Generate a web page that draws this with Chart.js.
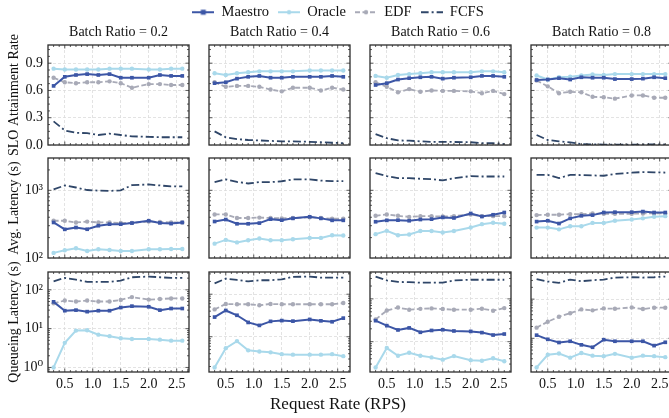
<!DOCTYPE html>
<html>
<head>
<meta charset="utf-8">
<script src="https://cdn.jsdelivr.net/npm/chart.js@4.4.0/dist/chart.umd.min.js"></script>
<style>
  html, body { margin: 0; padding: 0; background: #fff; overflow: hidden; }
  #fig { position: relative; width: 669px; height: 418px; overflow: hidden; }
  #fig canvas { position: absolute; }
</style>
</head>
<body>
<div id="fig"></div>
<script>
// ---- data ----
const xRates = [0.3, 0.5, 0.7, 0.9, 1.1, 1.3, 1.5, 1.7, 2.0, 2.2, 2.4, 2.6];
const batchRatios = ['0.2', '0.4', '0.6', '0.8'];
const seriesNames = ['Maestro', 'Oracle', 'EDF', 'FCFS'];
const metricNames = ['SLO Attainment Rate', 'Avg. Latency (s)', 'Queueing Latency (s)'];
const xTickValues = [0.5, 1.0, 1.5, 2.0, 2.5];
const sloTickValues = [0.0, 0.3, 0.6, 0.9];

// SLO attainment rate, one row per batch ratio
const sloMaestro = [
  [0.65, 0.75, 0.77, 0.78, 0.77, 0.78, 0.74, 0.74, 0.74, 0.77, 0.76, 0.76],
  [0.68, 0.69, 0.73, 0.75, 0.76, 0.74, 0.74, 0.75, 0.75, 0.75, 0.76, 0.75],
  [0.66, 0.68, 0.72, 0.735, 0.745, 0.75, 0.73, 0.74, 0.745, 0.76, 0.76, 0.75],
  [0.715, 0.72, 0.735, 0.72, 0.745, 0.74, 0.74, 0.725, 0.725, 0.73, 0.745, 0.735]
];
const sloOracle = [
  [0.84, 0.83, 0.83, 0.83, 0.83, 0.84, 0.84, 0.84, 0.83, 0.83, 0.84, 0.84],
  [0.79, 0.77, 0.79, 0.80, 0.81, 0.81, 0.81, 0.81, 0.82, 0.82, 0.82, 0.82],
  [0.76, 0.74, 0.77, 0.78, 0.79, 0.80, 0.80, 0.80, 0.80, 0.81, 0.81, 0.80],
  [0.765, 0.72, 0.745, 0.75, 0.765, 0.775, 0.77, 0.78, 0.78, 0.78, 0.78, 0.78]
];
const sloEdf = [
  [0.74, 0.69, 0.68, 0.69, 0.69, 0.70, 0.68, 0.63, 0.67, 0.67, 0.66, 0.66],
  [0.69, 0.64, 0.65, 0.65, 0.64, 0.61, 0.59, 0.63, 0.63, 0.60, 0.63, 0.61],
  [0.69, 0.64, 0.58, 0.615, 0.585, 0.60, 0.595, 0.595, 0.59, 0.57, 0.595, 0.56],
  [0.71, 0.645, 0.57, 0.585, 0.58, 0.53, 0.525, 0.51, 0.545, 0.545, 0.52, 0.52]
];
const sloFcfs = [
  [0.26, 0.16, 0.135, 0.13, 0.11, 0.125, 0.11, 0.095, 0.09, 0.085, 0.085, 0.085],
  [0.15, 0.085, 0.065, 0.055, 0.05, 0.045, 0.04, 0.04, 0.035, 0.03, 0.025, 0.02],
  [0.12, 0.075, 0.05, 0.048, 0.04, 0.035, 0.035, 0.033, 0.03, 0.022, 0.02, 0.01],
  [0.11, 0.055, 0.04, 0.03, 0.01, 0.007, 0.005, 0.005, 0.005, 0.005, 0.007, 0.005]
];

// average latency (s)
const avgMaestro = [
  [335, 265, 282, 266, 300, 316, 316, 328, 355, 330, 322, 335],
  [346, 370, 320, 320, 328, 375, 362, 385, 406, 385, 360, 360],
  [343, 360, 362, 355, 370, 375, 398, 390, 455, 410, 435, 470],
  [345, 355, 323, 385, 420, 430, 470, 475, 475, 485, 470, 470]
];
const avgOracle = [
  [119, 130, 139, 127, 135, 131, 127, 127, 135, 135, 136, 136],
  [163, 185, 170, 183, 194, 183, 183, 189, 198, 198, 217, 215],
  [225, 252, 217, 222, 250, 250, 238, 250, 282, 316, 331, 320],
  [281, 281, 265, 295, 295, 330, 330, 355, 370, 385, 406, 415]
];
const avgEdf = [
  [355, 355, 335, 345, 335, 335, 330, 330, 345, 340, 335, 335],
  [440, 440, 390, 390, 395, 390, 385, 390, 400, 390, 380, 380],
  [420, 440, 420, 405, 415, 415, 410, 415, 440, 415, 415, 415],
  [430, 435, 435, 445, 445, 455, 450, 450, 450, 455, 455, 455]
];
const avgFcfs = [
  [1030, 1180, 1100, 1010, 990, 980, 1000, 1190, 1220, 1180, 1140, 1140],
  [1320, 1450, 1330, 1260, 1320, 1320, 1360, 1450, 1450, 1390, 1370, 1370],
  [1790, 1620, 1510, 1510, 1480, 1460, 1400, 1510, 1620, 1600, 1600, 1600],
  [1690, 1690, 1510, 1690, 1680, 1660, 1640, 1740, 1820, 1860, 1840, 1830]
];

// queueing latency (s)
const queueMaestro = [
  [49, 29, 30, 27.4, 29, 29, 35, 38, 36.6, 30, 33, 33],
  [29, 41.5, 32, 21.7, 18.5, 23, 24, 23.3, 25.5, 23.7, 22.5, 27.4],
  [31, 23.7, 18.8, 21, 16.6, 18.3, 19, 17.8, 17.4, 16.3, 14.3, 15.1],
  [12, 9.4, 7.8, 8.4, 6.8, 5.9, 9.2, 8.4, 8.4, 8.4, 6.5, 7.9]
];
const queueOracle = [
  [1.0, 4.3, 8.9, 9.1, 7.0, 6.4, 5.65, 5.4, 5.4, 5.2, 4.9, 4.9],
  [1.9, 5.4, 7.9, 4.8, 4.5, 4.3, 3.9, 3.8, 3.8, 3.8, 3.9, 3.5],
  [2.5, 7.1, 4.7, 5.5, 4.7, 4.3, 3.8, 4.6, 3.7, 3.6, 4.1, 3.5],
  [1.8, 3.8, 4.1, 3.2, 4.2, 3.6, 3.5, 4.0, 3.2, 3.6, 3.5, 3.3]
];
const queueEdf = [
  [45, 53, 50, 53, 50, 50, 55, 65, 56, 58, 60, 60],
  [44, 59, 58, 58, 55, 59, 58, 58, 58, 58, 58, 62],
  [33, 53.5, 63, 56, 58.5, 60, 58, 56, 56, 59, 53, 61],
  [18.7, 26.4, 35.5, 43.6, 54.6, 51.6, 57.9, 56.6, 61.4, 55.8, 60.3, 60.3]
];
const queueFcfs = [
  [166, 203, 183, 160, 160, 160, 173, 211, 220, 211, 203, 203],
  [180, 232, 216, 200, 213, 213, 224, 255, 260, 245, 245, 245],
  [333, 270, 250, 246, 240, 240, 240, 270, 280, 280, 280, 280],
  [323, 281, 260, 316, 287, 304, 316, 355, 362, 355, 362, 377]
];

const metricData = [
  { Maestro: sloMaestro, Oracle: sloOracle, EDF: sloEdf, FCFS: sloFcfs },
  { Maestro: avgMaestro, Oracle: avgOracle, EDF: avgEdf, FCFS: avgFcfs },
  { Maestro: queueMaestro, Oracle: queueOracle, EDF: queueEdf, FCFS: queueFcfs }
];

// ---- styles ----
const FONT = "'Liberation Serif', 'DejaVu Serif', 'Times New Roman', serif";
Chart.defaults.font.family = FONT;
Chart.defaults.color = '#111';

const lineStyle = {
  Maestro: { color: '#3c56a6', width: 2, dash: [], marker: 'rect', radius: 2.6 },
  Oracle:  { color: '#a9d9eb', width: 2, dash: [], marker: 'circle', radius: 2.2 },
  EDF:     { color: '#a8aab7', width: 1.8, dash: [5, 2.5], marker: 'circle', radius: 2.2 },
  FCFS:    { color: '#2f4668', width: 1.8, dash: [8, 3, 2, 3], marker: false, radius: 0 }
};

const plotLeft = [48, 209, 370, 531];
const plotTop = [45, 158, 272];
const PW = 141, PH = 100, AXW = 48, TOPH = 30, BOTH = 30, RPAD = 8;
const X_MIN = 0.2, X_MAX = 2.72;
const TICK_SIZE = 14, TITLE_SIZE = 14;

const sup = { '-': '\u207b', '0': '\u2070', '1': '\u00b9', '2': '\u00b2', '3': '\u00b3', '4': '\u2074',
  '5': '\u2075', '6': '\u2076', '7': '\u2077', '8': '\u2078', '9': '\u2079' };
const powLabel = e => '10' + String(e).split('').map(c => sup[c]).join('');

function logPad(vals) {
  const lo = Math.log10(Math.min(...vals)), hi = Math.log10(Math.max(...vals));
  const m = (hi - lo) * 0.05;
  return [Math.pow(10, lo - m), Math.pow(10, hi + m)];
}

function logTicks(min, max) {
  const out = [];
  for (let e = Math.floor(Math.log10(min)); e <= Math.ceil(Math.log10(max)); e++) {
    for (let k = 1; k <= 9; k++) {
      const v = k * Math.pow(10, e);
      if (v >= min && v <= max) out.push({ value: v, isMajor: k === 1, exp: e });
    }
  }
  return out;
}

function linTicks(min, max, major, minorStep) {
  const out = [];
  const n = Math.round((max - min) / minorStep) + 2;
  const start = Math.ceil(min / minorStep - 1e-6);
  for (let i = start; i < start + n; i++) {
    const v = +(i * minorStep).toFixed(4);
    if (v < min - 1e-9 || v > max + 1e-9) continue;
    out.push({ value: v, isMajor: major.some(m => Math.abs(m - v) < 1e-6) });
  }
  return out;
}

// inward ticks on all four sides + box frame
const boxTicks = {
  id: 'boxTicks',
  afterDatasetsDraw(chart) {
    const { ctx, chartArea: a, scales } = chart;
    ctx.save();
    ctx.strokeStyle = '#333';
    ctx.lineWidth = 0.8;
    ctx.beginPath();
    scales.x.ticks.forEach(t => {
      const p = scales.x.getPixelForValue(t.value);
      if (p <= a.left + 0.5 || p >= a.right - 0.5) return;
      const len = t.isMajor ? 3.5 : 2;
      ctx.moveTo(p, a.bottom); ctx.lineTo(p, a.bottom - len);
      ctx.moveTo(p, a.top); ctx.lineTo(p, a.top + len);
    });
    scales.y.ticks.forEach(t => {
      const p = scales.y.getPixelForValue(t.value);
      if (p <= a.top + 0.5 || p >= a.bottom - 0.5) return;
      const len = t.isMajor ? 3.5 : 2;
      ctx.moveTo(a.left, p); ctx.lineTo(a.left + len, p);
      ctx.moveTo(a.right, p); ctx.lineTo(a.right - len, p);
    });
    ctx.stroke();
    ctx.lineWidth = 1.3;
    ctx.strokeStyle = '#2b2b2b';
    ctx.strokeRect(a.left, a.top, a.right - a.left, a.bottom - a.top);
    ctx.restore();
  }
};

const fig = document.getElementById('fig');

function addCanvas(left, top, w, h) {
  const cv = document.createElement('canvas');
  cv.width = w; cv.height = h;
  cv.style.left = left + 'px'; cv.style.top = top + 'px';
  cv.style.width = w + 'px'; cv.style.height = h + 'px';
  fig.appendChild(cv);
  return cv;
}

function legendIcon(name) {
  const s = lineStyle[name];
  const c = document.createElement('canvas');
  c.width = 22; c.height = 8;
  const g = c.getContext('2d');
  g.strokeStyle = s.color; g.lineWidth = s.width; g.setLineDash(s.dash);
  g.beginPath(); g.moveTo(0, 4); g.lineTo(22, 4); g.stroke();
  g.setLineDash([]); g.fillStyle = s.color;
  if (s.marker === 'rect') g.fillRect(11 - 2.5, 4 - 2.5, 5, 5);
  if (s.marker === 'circle') { g.beginPath(); g.arc(11, 4, 2.2, 0, Math.PI * 2); g.fill(); }
  return c;
}

// ---- frame: legend on top, x label at bottom ----
new Chart(addCanvas(0, -4, 676, 430), {
  type: 'line',
  data: { datasets: seriesNames.map(n => ({ label: n, data: [] })) },
  options: {
    responsive: false, animation: false,
    scales: { x: { display: false }, y: { display: false } },
    plugins: {
      tooltip: { enabled: false },
      legend: {
        position: 'top',
        labels: {
          usePointStyle: true, pointStyleWidth: 22, boxHeight: 8, padding: 9,
          color: '#111', font: { family: FONT, size: 14.5 },
          generateLabels: () => seriesNames.map((n, i) => ({
            text: n, pointStyle: legendIcon(n), datasetIndex: i, hidden: false,
            fontColor: '#111', lineWidth: 0, strokeStyle: 'rgba(0,0,0,0)', fillStyle: 'rgba(0,0,0,0)'
          }))
        }
      },
      title: {
        display: true, position: 'bottom', text: 'Request Rate (RPS)', color: '#111',
        font: { family: FONT, size: 17, weight: 'normal' }, padding: { top: 0, bottom: 10.8 }
      }
    }
  }
});

// ---- 3 x 4 panels ----
for (let row = 0; row < 3; row++) {
  for (let col = 0; col < 4; col++) {
    const data = metricData[row];
    let yMin, yMax, yType;
    if (row === 0) { yType = 'linear'; yMin = 0; yMax = 1.1; }
    else if (row === 1) { yType = 'logarithmic'; yMin = 100; yMax = 3000; }
    else {
      yType = 'logarithmic';
      [yMin, yMax] = logPad(seriesNames.flatMap(n => data[n][col]));
    }

    const datasets = seriesNames.map(n => {
      const s = lineStyle[n];
      return {
        label: n,
        data: xRates.map((x, i) => ({ x, y: data[n][col][i] })),
        borderColor: s.color, backgroundColor: s.color,
        borderWidth: s.width, borderDash: s.dash,
        pointStyle: s.marker || 'circle', pointRadius: s.radius,
        pointBackgroundColor: s.color, pointBorderWidth: 0,
        tension: 0, fill: false
      };
    });

    const cv = addCanvas(plotLeft[col] - AXW, plotTop[row] - TOPH, AXW + PW + RPAD, TOPH + PH + BOTH);
    new Chart(cv, {
      type: 'line',
      data: { datasets },
      plugins: [boxTicks],
      options: {
        responsive: false, animation: false,
        layout: { padding: { top: row === 0 ? 0 : TOPH, right: RPAD, left: 0, bottom: 0 } },
        plugins: {
          legend: { display: false },
          tooltip: { enabled: false },
          title: {
            display: row === 0, text: 'Batch Ratio = ' + batchRatios[col], fullSize: false,
            color: '#111', font: { family: FONT, size: TITLE_SIZE, weight: 'normal' },
            padding: { top: 8.6, bottom: 4.6 }
          }
        },
        scales: {
          x: {
            type: 'linear', min: X_MIN, max: X_MAX, bounds: 'data',
            afterBuildTicks: s => { s.ticks = linTicks(X_MIN, X_MAX, xTickValues, 0.1); },
            afterFit: s => { s.height = BOTH; },
            ticks: {
              display: row === 2, autoSkip: false, maxRotation: 0, padding: 3.6,
              color: '#111', font: { family: FONT, size: TICK_SIZE },
              callback: function (v, i, ticks) { return ticks[i].isMajor ? v.toFixed(1) : ''; }
            },
            grid: {
              drawTicks: false, lineWidth: 0.8,
              color: c => (c.tick && c.tick.isMajor) ? '#dcdcdc' : 'rgba(0,0,0,0)'
            },
            border: { display: false, dash: [3, 2] }
          },
          y: {
            type: yType, min: yMin, max: yMax, bounds: 'data',
            afterBuildTicks: s => {
              s.ticks = row === 0 ? linTicks(yMin, yMax, sloTickValues, 0.075) : logTicks(yMin, yMax);
            },
            afterFit: s => { s.width = AXW; },
            ticks: {
              display: col === 0, autoSkip: false, padding: 5,
              color: '#111', font: { family: FONT, size: TICK_SIZE },
              callback: function (v, i, ticks) {
                const t = ticks[i];
                if (!t.isMajor) return '';
                return row === 0 ? v.toFixed(1) : powLabel(t.exp);
              }
            },
            grid: {
              drawTicks: false, lineWidth: 0.8,
              color: c => (c.tick && c.tick.isMajor) ? '#dcdcdc' : 'rgba(0,0,0,0)'
            },
            border: { display: false, dash: [3, 2] },
            title: {
              display: col === 0, text: metricNames[row], color: '#111',
              font: { family: FONT, size: TITLE_SIZE }, padding: { top: 5.5, bottom: 0 }
            }
          }
        }
      }
    });
  }
}
</script>
</body>
</html>
